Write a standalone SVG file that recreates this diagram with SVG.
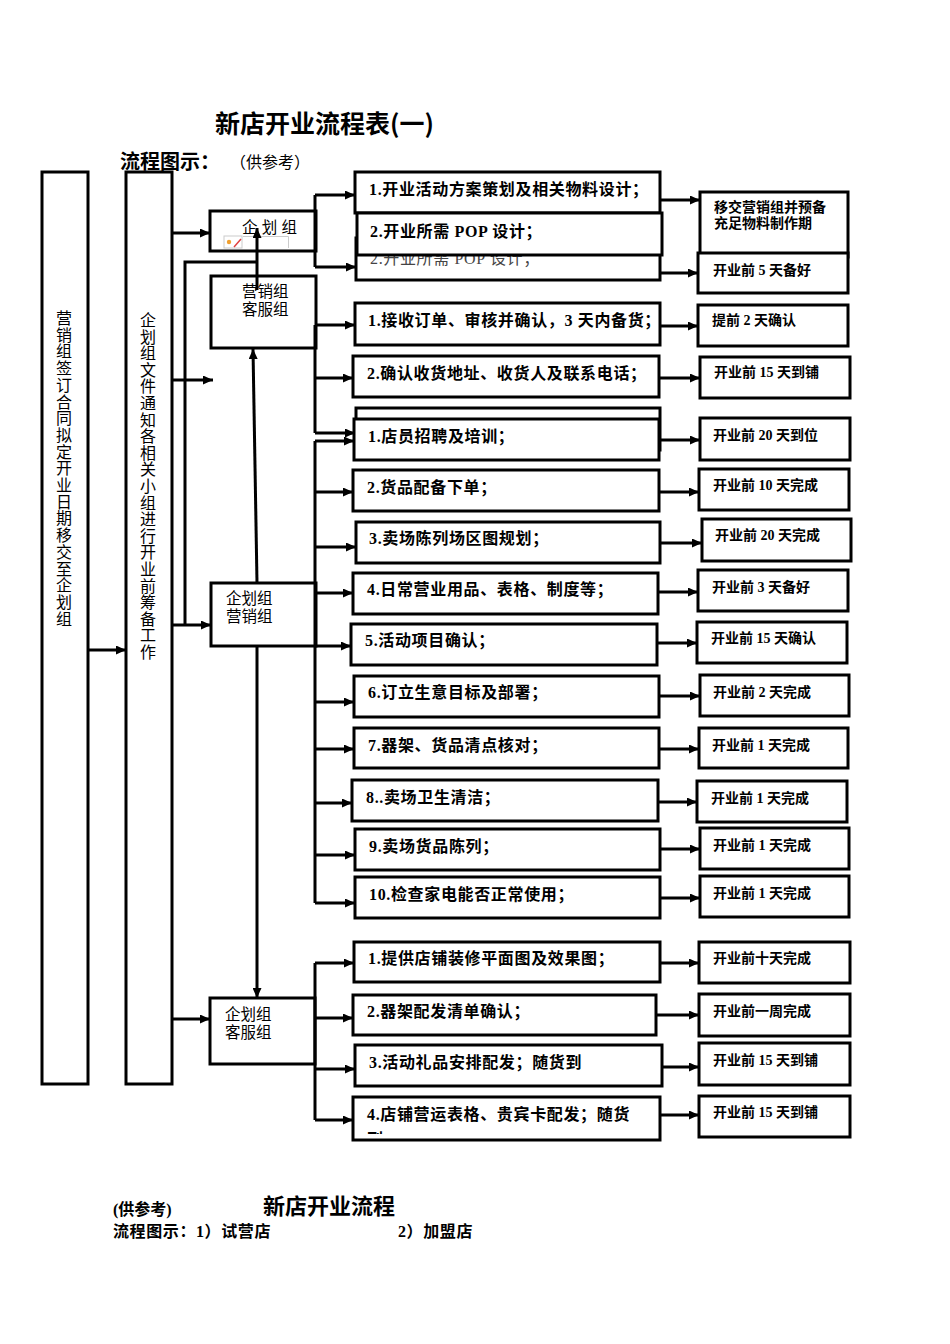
<svg xmlns="http://www.w3.org/2000/svg" width="950" height="1344" viewBox="0 0 950 1344">
<style>
.bx{fill:#fff;stroke:#000;stroke-width:3}
.ln{fill:none;stroke:#000;stroke-width:3}
.ar{fill:none;stroke:#000;stroke-width:3;marker-end:url(#ah)}
.tk{font-family:"Liberation Serif","Noto Sans CJK SC",serif;font-weight:bold;font-size:16px;letter-spacing:0.65px;fill:#000}
.rt{font-family:"Liberation Serif","Noto Sans CJK SC",serif;font-weight:bold;font-size:14px;fill:#000}
.gp{font-family:"Liberation Sans","Noto Sans CJK SC",sans-serif;font-size:15.5px;fill:#000}
.vt{font-family:"Noto Sans CJK SC",sans-serif;font-size:16px;fill:#000;text-anchor:middle}
</style>
<defs>
<marker id="ah" markerUnits="userSpaceOnUse" markerWidth="11" markerHeight="9" refX="10" refY="4.5" orient="auto"><path d="M0,0 L10,4.5 L0,9 z" fill="#000"/></marker>
</defs>
<rect width="950" height="1344" fill="#fff"/>
<g id="titles">
<text x="215" y="133" font-family="Noto Sans CJK SC,sans-serif" font-size="25" font-weight="bold">新店开业流程表(一)</text>
<text x="120" y="169" font-family="Noto Sans CJK SC,sans-serif" font-size="20" font-weight="bold">流程图示：</text>
<text x="230" y="168" font-family="Noto Sans CJK SC,sans-serif" font-size="16">（供参考）</text>
</g>
<g id="col1">
<rect class="bx" x="42" y="172" width="46" height="912"/>
<text class="vt" x="64 64 64 64 64 64 64 64 64 64 64 64 64 64 64 64 64 64 64" y="324 340.7 357.4 374.1 390.8 407.5 424.2 440.9 457.6 474.3 491 507.7 524.4 541.1 557.8 574.5 591.2 607.9 624.6">营销组签订合同拟定开业日期移交至企划组</text>
</g>
<g id="col2">
<rect class="bx" x="126" y="172" width="46" height="912"/>
<text class="vt" x="148 148 148 148 148 148 148 148 148 148 148 148 148 148 148 148 148 148 148 148 148" y="326 342.6 359.2 375.8 392.4 409 425.6 442.2 458.8 475.4 492 508.6 525.2 541.8 558.4 575 591.6 608.2 624.8 641.4 658">企划组文件通知各相关小组进行开业前筹备工作</text>
</g>
<g id="g-qihua">
<rect class="bx" x="210" y="211" width="106" height="40"/>
<text class="gp" x="242" y="233">企 划 组</text>
<path d="M243,236.5 H288.5 V248" fill="none" stroke="#ccc" stroke-width="1"/>
<rect x="224" y="236" width="18" height="12" fill="#fff" stroke="#ccc" stroke-width="1"/>
<circle cx="229" cy="242" r="2.2" fill="#f0a030"/>
<path d="M234,247 L241,239" stroke="#e04040" stroke-width="1.5"/>
</g>
<g id="g-yxkf">
<rect class="bx" x="211" y="276" width="105" height="72"/>
<text class="gp"><tspan x="242" y="297">营销组</tspan><tspan x="242" dy="17.6">客服组</tspan></text>
</g>
<g id="g-qhyx">
<rect class="bx" x="211" y="583" width="105" height="63"/>
<text class="gp"><tspan x="226" y="604">企划组</tspan><tspan x="226" dy="17.6">营销组</tspan></text>
</g>
<g id="g-qhkf">
<rect class="bx" x="210" y="998" width="105" height="66"/>
<text class="gp"><tspan x="225" y="1020">企划组</tspan><tspan x="225" dy="17.6">客服组</tspan></text>
</g>
<g id="tasks">
<g id="t-a1"><rect class="bx" x="355" y="172" width="305" height="41"/><text class="tk" x="369" y="195">1.开业活动方案策划及相关物料设计；</text></g>
<g id="t-a3"><rect class="bx" x="356" y="238" width="304" height="42"/><text x="370" y="264" font-family="Liberation Serif,Noto Sans CJK SC,serif" font-size="16" letter-spacing="0.65" fill="#444">2.开业所需 POP 设计；</text></g>
<g id="t-a2"><rect class="bx" x="357" y="213" width="305" height="42"/><text class="tk" x="370" y="237">2.开业所需 POP 设计；</text></g>
<g id="t-b1"><rect class="bx" x="355" y="303" width="305" height="42"/><text class="tk" x="368" y="326">1.接收订单、审核并确认，3 天内备货；</text></g>
<g id="t-b2"><rect class="bx" x="353" y="356" width="306" height="41"/><text class="tk" x="367" y="379">2.确认收货地址、收货人及联系电话；</text></g>
<g id="t-b3"><rect class="bx" x="356" y="408" width="304" height="42"/><rect class="bx" x="354" y="419" width="305" height="41"/><text class="tk" x="368" y="442">1.店员招聘及培训；</text></g>
<g id="t-c2"><rect class="bx" x="353" y="470" width="306" height="41"/><text class="tk" x="367" y="493">2.货品配备下单；</text></g>
<g id="t-c3"><rect class="bx" x="356" y="522" width="304" height="41"/><text class="tk" x="369" y="544">3.卖场陈列场区图规划；</text></g>
<g id="t-c4"><rect class="bx" x="353" y="573" width="305" height="41"/><text class="tk" x="367" y="595">4.日常营业用品、表格、制度等；</text></g>
<g id="t-c5"><rect class="bx" x="351" y="624" width="306" height="41"/><text class="tk" x="365" y="646">5.活动项目确认；</text></g>
<g id="t-c6"><rect class="bx" x="354" y="676" width="305" height="41"/><text class="tk" x="368" y="698">6.订立生意目标及部署；</text></g>
<g id="t-c7"><rect class="bx" x="354" y="728" width="305" height="40"/><text class="tk" x="368" y="751">7.器架、货品清点核对；</text></g>
<g id="t-c8"><rect class="bx" x="352" y="780" width="306" height="41"/><text class="tk" x="366" y="803">8..卖场卫生清洁；</text></g>
<g id="t-c9"><rect class="bx" x="355" y="829" width="305" height="41"/><text class="tk" x="369" y="852">9.卖场货品陈列；</text></g>
<g id="t-c10"><rect class="bx" x="355" y="877" width="305" height="41"/><text class="tk" x="369" y="900">10.检查家电能否正常使用；</text></g>
<g id="t-d1"><rect class="bx" x="354" y="942" width="306" height="40"/><text class="tk" x="368" y="964">1.提供店铺装修平面图及效果图；</text></g>
<g id="t-d2"><rect class="bx" x="353" y="995" width="303" height="40"/><text class="tk" x="367" y="1017">2.器架配发清单确认；</text></g>
<g id="t-d3"><rect class="bx" x="355" y="1045" width="307" height="41"/><text class="tk" x="369" y="1068">3.活动礼品安排配发；随货到</text></g>
<g id="t-d4"><rect class="bx" x="353" y="1097" width="307" height="43"/><text class="tk" x="367" y="1120">4.店铺营运表格、贵宾卡配发；随货</text>
<clipPath id="cl4"><rect x="360" y="1120" width="40" height="14"/></clipPath>
<text x="367" y="1145" font-family="Noto Sans CJK SC,sans-serif" font-weight="bold" font-size="16" clip-path="url(#cl4)">到</text></g>
</g>
<g id="results">
<g id="r-a1"><rect class="bx" x="700" y="192" width="148" height="65"/><text class="rt"><tspan x="714" y="212">移交营销组并预备</tspan><tspan x="714" dy="15.5">充足物料制作期</tspan></text></g>
<g id="r-a2"><rect class="bx" x="698" y="253" width="150" height="40"/><text class="rt" x="713" y="275">开业前 5 天备好</text></g>
<g id="r-b1"><rect class="bx" x="698" y="305" width="150" height="41"/><text class="rt" x="712" y="325">提前 2 天确认</text></g>
<g id="r-b2"><rect class="bx" x="700" y="357" width="150" height="41"/><text class="rt" x="714" y="377">开业前 15 天到铺</text></g>
<g id="r-b3"><rect class="bx" x="700" y="418" width="150" height="42"/><text class="rt" x="713" y="440">开业前 20 天到位</text></g>
<g id="r-c2"><rect class="bx" x="699" y="469" width="150" height="41"/><text class="rt" x="713" y="490">开业前 10 天完成</text></g>
<g id="r-c3"><rect class="bx" x="702" y="519" width="149" height="42"/><text class="rt" x="715" y="540">开业前 20 天完成</text></g>
<g id="r-c4"><rect class="bx" x="698" y="570" width="150" height="41"/><text class="rt" x="712" y="592">开业前 3 天备好</text></g>
<g id="r-c5"><rect class="bx" x="697" y="622" width="150" height="41"/><text class="rt" x="711" y="643">开业前 15 天确认</text></g>
<g id="r-c6"><rect class="bx" x="700" y="675" width="149" height="41"/><text class="rt" x="713" y="697">开业前 2 天完成</text></g>
<g id="r-c7"><rect class="bx" x="699" y="728" width="149" height="40"/><text class="rt" x="712" y="750">开业前 1 天完成</text></g>
<g id="r-c8"><rect class="bx" x="697" y="781" width="150" height="41"/><text class="rt" x="711" y="803">开业前 1 天完成</text></g>
<g id="r-c9"><rect class="bx" x="700" y="828" width="149" height="41"/><text class="rt" x="713" y="850">开业前 1 天完成</text></g>
<g id="r-c10"><rect class="bx" x="700" y="876" width="149" height="41"/><text class="rt" x="713" y="898">开业前 1 天完成</text></g>
<g id="r-d1"><rect class="bx" x="699" y="942" width="151" height="41"/><text class="rt" x="713" y="963">开业前十天完成</text></g>
<g id="r-d2"><rect class="bx" x="699" y="994" width="151" height="42"/><text class="rt" x="713" y="1016">开业前一周完成</text></g>
<g id="r-d3"><rect class="bx" x="699" y="1043" width="151" height="42"/><text class="rt" x="713" y="1065">开业前 15 天到铺</text></g>
<g id="r-d4"><rect class="bx" x="699" y="1096" width="151" height="41"/><text class="rt" x="713" y="1117">开业前 15 天到铺</text></g>
</g>
<g id="connectors">
<path class="ar" d="M88,650 H126"/>
<path class="ar" d="M172,233 H210"/>
<path class="ar" d="M172,380 H213"/>
<path class="ar" d="M172,625 H211"/>
<path class="ar" d="M172,1019 H210"/>
<path class="ln" d="M185,625 V262 H257"/>
<path class="ar" d="M257,290 V228"/>
<path class="ar" d="M257,583 L253,349"/>
<path class="ar" d="M257,646 V998"/>
<path class="ln" d="M315,195 V267"/>
<path class="ar" d="M315,195 H355"/>
<path class="ar" d="M315,267 H356"/>
<path class="ln" d="M315,325 V433"/>
<path class="ar" d="M315,325 H355"/>
<path class="ar" d="M315,378 H353"/>
<path class="ar" d="M315,433 H355"/>
<path class="ln" d="M315,441 V903"/>
<path class="ar" d="M315,441 H354"/>
<path class="ar" d="M315,492 H353"/>
<path class="ar" d="M315,547 H356"/>
<path class="ar" d="M315,593 H353"/>
<path class="ar" d="M315,646 H351"/>
<path class="ar" d="M315,702 H354"/>
<path class="ar" d="M315,749 H354"/>
<path class="ar" d="M315,803 H352"/>
<path class="ar" d="M315,855 H355"/>
<path class="ar" d="M315,903 H355"/>
<path class="ln" d="M315,963 V1120"/>
<path class="ar" d="M315,963 H354"/>
<path class="ar" d="M315,1018 H353"/>
<path class="ar" d="M315,1069 H355"/>
<path class="ar" d="M315,1120 H353"/>
<path class="ar" d="M660,200 H700"/>
<path class="ar" d="M660,273 H698"/>
<path class="ar" d="M660,326 H698"/>
<path class="ar" d="M659,378 H700"/>
<path class="ar" d="M659,440 H700"/>
<path class="ar" d="M659,492 H699"/>
<path class="ar" d="M660,543 H702"/>
<path class="ar" d="M658,592 H698"/>
<path class="ar" d="M657,643 H697"/>
<path class="ar" d="M659,696 H700"/>
<path class="ar" d="M659,749 H699"/>
<path class="ar" d="M658,802 H697"/>
<path class="ar" d="M660,849 H700"/>
<path class="ar" d="M660,898 H700"/>
<path class="ar" d="M660,963 H699"/>
<path class="ar" d="M656,1015 H699"/>
<path class="ar" d="M662,1067 H699"/>
<path class="ar" d="M660,1115 H699"/>
</g>
<g id="footer">
<text x="113" y="1215" font-family="Liberation Serif,Noto Sans CJK SC,serif" font-weight="bold" font-size="16">(供参考)</text>
<text x="263" y="1214" font-family="Noto Sans CJK SC,sans-serif" font-weight="bold" font-size="22">新店开业流程</text>
<text x="113" y="1237" font-family="Liberation Serif,Noto Sans CJK SC,serif" font-weight="bold" font-size="16" letter-spacing="0.6">流程图示：1）试营店</text>
<text x="398" y="1237" font-family="Liberation Serif,Noto Sans CJK SC,serif" font-weight="bold" font-size="16" letter-spacing="0.6">2）加盟店</text>
</g>
</svg>
